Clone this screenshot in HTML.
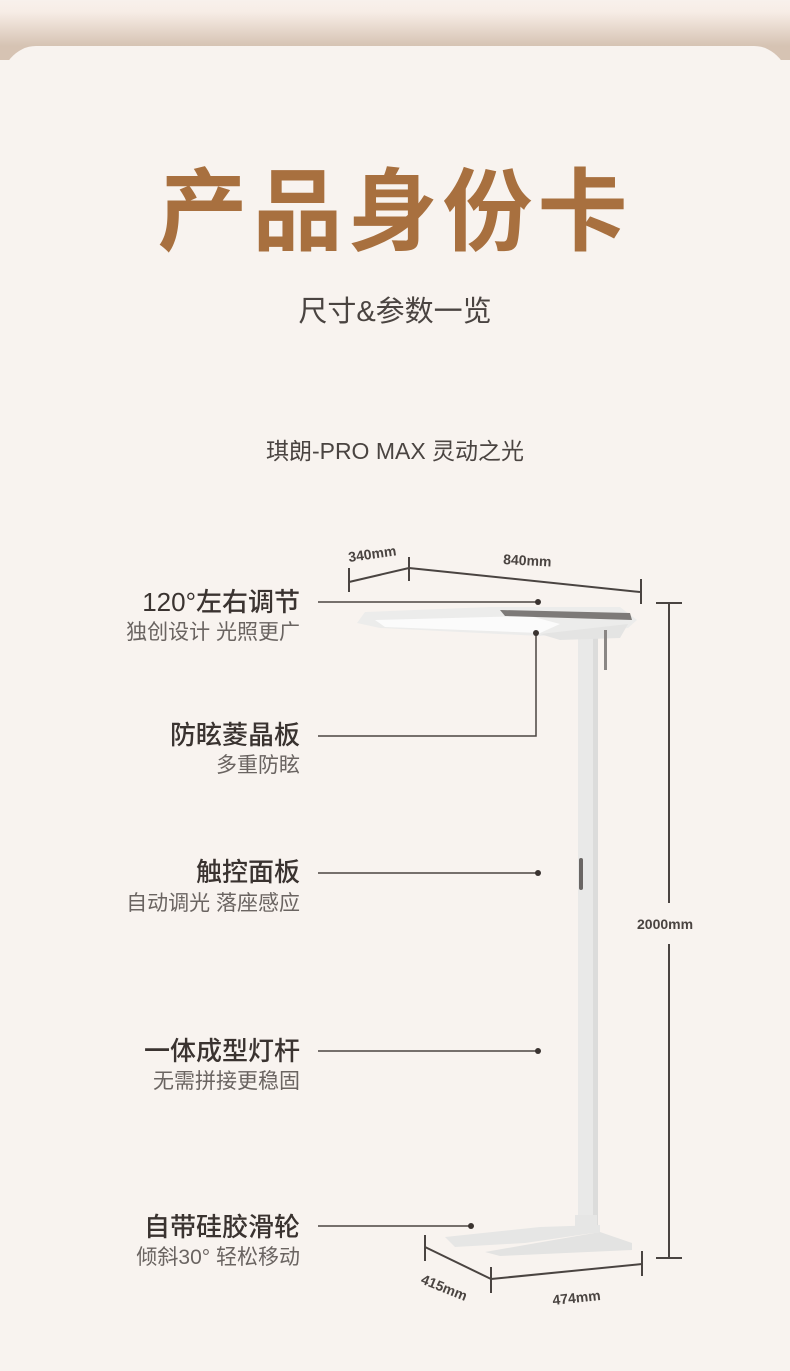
<!DOCTYPE html>
<html><head><meta charset="utf-8"><style>
html,body{margin:0;padding:0;width:790px;height:1371px;overflow:hidden;}
body{background:#f8f3ef;position:relative;font-family:"Liberation Sans","Noto Sans CJK SC",sans-serif;}
.shadow{position:absolute;left:0;top:0;width:790px;height:60px;background:linear-gradient(#f8f1ec 0,#f7ede6 12px,#d6c3b3 46px);}
.card{position:absolute;left:0;top:46px;width:790px;height:1325px;background:#f8f3ef;border-radius:36px 36px 0 0/42px 42px 0 0;}
.t{position:absolute;white-space:nowrap;}
.title{left:0;width:790px;text-align:center;top:158px;font-size:90px;font-weight:bold;color:#a8703f;letter-spacing:5px;line-height:110px;}
.sub{left:0;width:790px;text-align:center;top:294px;font-size:29px;color:#4a4441;line-height:36px;}
.model{left:0;width:790px;text-align:center;top:436px;font-size:23px;color:#4a4441;line-height:30px;}
.m{right:490px;font-size:26px;color:#3a3330;line-height:30px;font-weight:500;}
.s{right:490px;font-size:21px;color:#6a6461;line-height:24px;}
svg{position:absolute;left:0;top:0;}
</style></head><body>
<div class="shadow"></div>
<div class="card"></div>
<div class="t title">产品身份卡</div>
<div class="t sub">尺寸&amp;参数一览</div>
<div class="t model">琪朗-PRO MAX 灵动之光</div>

<div class="t m" style="top:587px">120°左右调节</div>
<div class="t s" style="top:621px">独创设计 光照更广</div>
<div class="t m" style="top:720px">防眩菱晶板</div>
<div class="t s" style="top:754px">多重防眩</div>
<div class="t m" style="top:857px">触控面板</div>
<div class="t s" style="top:892px">自动调光 落座感应</div>
<div class="t m" style="top:1036px">一体成型灯杆</div>
<div class="t s" style="top:1070px">无需拼接更稳固</div>
<div class="t m" style="top:1212px">自带硅胶滑轮</div>
<div class="t s" style="top:1246px">倾斜30° 轻松移动</div>

<svg width="790" height="1371" viewBox="0 0 790 1371">
<rect x="578" y="628" width="20" height="598" fill="#e9e9e8"/>
<rect x="593" y="628" width="5" height="598" fill="#dcdcdb"/>
<rect x="579" y="858" width="4" height="32" rx="2" fill="#6a6664"/>
<polygon points="445,1237 540,1227 600,1225 600,1232 525,1243 455,1247" fill="#e6e6e5"/>
<polygon points="485,1252 525,1245 600,1232 632,1243 632,1250 500,1256" fill="#e3e3e2"/>
<rect x="575" y="1215" width="22" height="18" fill="#e6e6e5"/>
<polygon points="365,612 490,607 620,607 637,620 628,628 560,634 540,636 380,628 357,623" fill="#ececeb"/>
<polygon points="375,620 530,616 560,624 540,633 385,627" fill="#fbfbfb"/>
<polygon points="500,610 630,613 632,620 505,616" fill="#7d7a78"/>
<polygon points="540,634 628,624 620,638 560,640" fill="#e4e4e3"/>
<rect x="604" y="630" width="3" height="40" fill="#8a8684"/>
<g stroke="#4a4441" stroke-width="1.5" fill="none">
<line x1="318" y1="602" x2="538" y2="602"/>
<polyline points="318,736 536,736 536,633"/>
<line x1="318" y1="873" x2="538" y2="873"/>
<line x1="318" y1="1051" x2="538" y2="1051"/>
<line x1="318" y1="1226" x2="470" y2="1226"/>
</g>
<g fill="#3a3330">
<circle cx="538" cy="602" r="3"/><circle cx="536" cy="633" r="3"/>
<circle cx="538" cy="873" r="3"/><circle cx="538" cy="1051" r="3"/><circle cx="471" cy="1226" r="3"/>
</g>
<g stroke="#4a4441" stroke-width="2" fill="none">
<line x1="349" y1="568" x2="349" y2="592"/>
<line x1="409" y1="557" x2="409" y2="581"/>
<line x1="349" y1="582" x2="409" y2="568"/>
<line x1="409" y1="568" x2="640" y2="592"/>
<line x1="641" y1="579" x2="641" y2="604"/>
<line x1="656" y1="603" x2="682" y2="603"/>
<line x1="669" y1="603" x2="669" y2="903"/>
<line x1="669" y1="944" x2="669" y2="1258"/>
<line x1="656" y1="1258" x2="682" y2="1258"/>
<line x1="425" y1="1235" x2="425" y2="1261"/>
<line x1="425" y1="1247" x2="491" y2="1279"/>
<line x1="491" y1="1267" x2="491" y2="1293"/>
<line x1="491" y1="1279" x2="642" y2="1264"/>
<line x1="642" y1="1251" x2="642" y2="1276"/>
</g>
<g font-family="Liberation Sans,sans-serif" font-size="14" font-weight="bold" fill="#4a4441">
<text x="349" y="562" transform="rotate(-8 349 562)">340mm</text>
<text x="503" y="564" transform="rotate(3 503 564)">840mm</text>
<text x="637" y="929">2000mm</text>
<text x="420" y="1283" transform="rotate(22 420 1283)">415mm</text>
<text x="553" y="1305" transform="rotate(-6 553 1305)">474mm</text>
</g>
</svg>
</body></html>
